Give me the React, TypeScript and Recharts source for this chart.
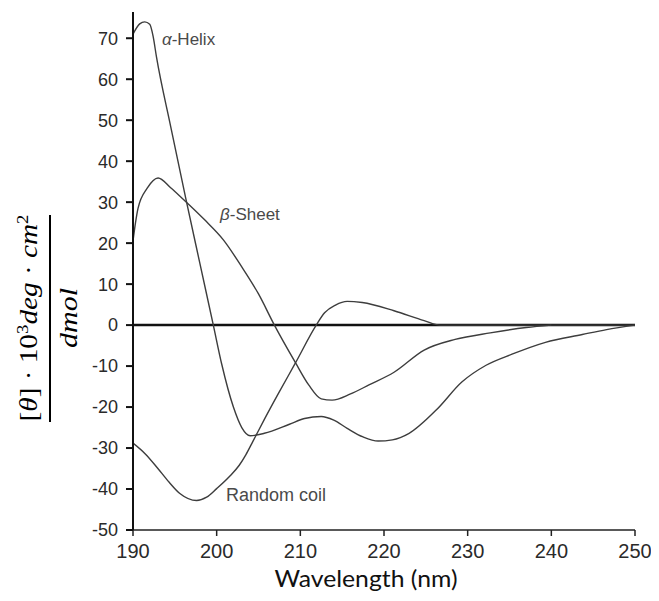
import React from 'react';
import { LineChart, Line, XAxis, YAxis, ReferenceLine, Customized } from 'recharts';

// wavelength ticks (nm) and ellipticity ticks (10^3 deg cm2 / dmol)
const wavelengthTicks = [190, 200, 210, 220, 230, 240, 250];
const thetaTicks = [-50, -40, -30, -20, -10, 0, 10, 20, 30, 40, 50, 60, 70];

// [nm, theta]
const alphaHelix: [number, number][] = [
    [190, 71], [190.8, 73.5], [191.4, 74], [192, 73.4], [192.4, 70.5], [192.8, 65.5],
    [194.5, 48.5], [196.3, 31], [198, 15], [199.6, 0], [200.6, -9.5], [202, -20],
    [203, -25], [204, -27], [205.7, -26.4], [208.7, -24.2], [210.5, -22.8],
    [212.5, -22.3], [214, -23.2], [215.6, -25.2], [217.5, -27.3], [219.3, -28.3],
    [221, -28], [223, -26.4], [226.3, -20.6], [229.3, -13.9], [232.2, -9.8],
    [235.3, -7.1], [239.3, -4.2], [243.7, -2.3], [246.6, -1.1], [250, 0],
];

const betaSheet: [number, number][] = [
    [190, 20.5], [190.3, 25], [190.6, 28.5], [191.7, 33.4], [193, 35.9], [194.5, 33.5],
    [196, 30.7], [198.5, 25.8], [200.8, 20.8], [203, 14.2], [205, 7.6], [206.9, 0],
    [209.4, -9.1], [211, -14.6], [212.5, -18], [213.8, -18.3], [216, -16.8],
    [218.2, -14.6], [221.2, -11.5], [224.8, -6.1], [228.5, -3.5], [232.7, -1.9],
    [237, -0.6], [240, 0],
];

const randomCoil: [number, number][] = [
    [190, -28.8], [191.5, -31.5], [192.9, -34.8], [194.3, -38.3], [195.6, -41.1],
    [197.6, -42.8], [198.8, -42], [200, -39.9], [201.5, -37], [202.7, -34.2],
    [203.5, -31.6], [204.3, -28.5], [205.7, -23], [207.4, -16.6], [209.4, -9.3],
    [211.9, 0], [212.9, 3], [214.2, 4.9], [215.6, 5.8], [217.4, 5.5], [221.2, 3.5],
    [224.8, 1.1], [226.7, 0], [250, 0],
];

const toRows = (pts: [number, number][]) => pts.map(([nm, theta]) => ({ nm, theta }));

const sans = '"Liberation Sans", Arial, sans-serif';
const serif = '"Liberation Serif", "Times New Roman", serif';
const curveColor = '#3d3d3d';

const Annotations = () => (
    <g>
        {/* series names */}
        <text x={162} y={45} fontFamily={sans} fontSize={17} fill="#4a4a4a">
            <tspan fontStyle="italic">α</tspan>-Helix
        </text>
        <text x={220} y={220} fontFamily={sans} fontSize={17} fill="#4a4a4a">
            <tspan fontStyle="italic">β</tspan>-Sheet
        </text>
        <text x={226} y={501} fontFamily={sans} fontSize={18} fill="#4a4a4a">
            Random coil
        </text>

        {/* y axis label as a fraction */}
        <text
            transform="translate(37,318) rotate(-90)"
            textAnchor="middle"
            fontFamily={serif}
            fontSize={25}
            fill="#000"
            textLength={207}
            lengthAdjust="spacingAndGlyphs"
        >
            [<tspan fontStyle="italic">θ</tspan>] · 10<tspan dy={-9} fontSize={16}>3</tspan>
            <tspan dy={9} fontStyle="italic">deg</tspan> · <tspan fontStyle="italic">cm</tspan>
            <tspan dy={-9} fontSize={16}>2</tspan>
        </text>
        <line x1={50} x2={50} y1={215} y2={422} stroke="#000" strokeWidth={2} />
        <text
            transform="translate(77,318) rotate(-90)"
            textAnchor="middle"
            fontFamily={serif}
            fontStyle="italic"
            fontSize={25}
            fill="#000"
            textLength={60}
            lengthAdjust="spacingAndGlyphs"
        >
            dmol
        </text>

        {/* x axis label */}
        <text
            x={366}
            y={587}
            textAnchor="middle"
            fontFamily='Lato, "Open Sans", sans-serif'
            fontSize={24}
            fill="#111"
            textLength={183}
            lengthAdjust="spacingAndGlyphs"
        >
            Wavelength (nm)
        </text>
    </g>
);

const App: React.FC = () => {
    return (
        <div style={{ margin: -8, width: 659, height: 601, background: '#fff' }}>
            <LineChart width={659} height={601} margin={{ top: 12, right: 24, left: 0, bottom: 0 }}>
                <XAxis
                    type="number"
                    dataKey="nm"
                    domain={[190, 250]}
                    ticks={wavelengthTicks}
                    height={71}
                    stroke="#222"
                    strokeWidth={1.5}
                    tickSize={6}
                    tickMargin={8}
                    tick={{ fontSize: 20, fontFamily: sans, fill: '#2a2a2a' }}
                    allowDataOverflow
                />
                <YAxis
                    type="number"
                    domain={[-50, 76.4]}
                    ticks={thetaTicks}
                    width={133}
                    stroke="#111"
                    strokeWidth={2}
                    tickSize={7}
                    tickMargin={8}
                    tick={{ fontSize: 18, fontFamily: sans, fill: '#2a2a2a' }}
                    allowDataOverflow
                />
                <ReferenceLine y={0} stroke="#111" strokeWidth={2.5} />
                <Line
                    data={toRows(alphaHelix)}
                    dataKey="theta"
                    type="monotone"
                    stroke={curveColor}
                    strokeWidth={1.4}
                    dot={false}
                    activeDot={false}
                    isAnimationActive={false}
                />
                <Line
                    data={toRows(betaSheet)}
                    dataKey="theta"
                    type="monotone"
                    stroke={curveColor}
                    strokeWidth={1.4}
                    dot={false}
                    activeDot={false}
                    isAnimationActive={false}
                />
                <Line
                    data={toRows(randomCoil)}
                    dataKey="theta"
                    type="monotone"
                    stroke={curveColor}
                    strokeWidth={1.4}
                    dot={false}
                    activeDot={false}
                    isAnimationActive={false}
                />
                <Customized component={Annotations} />
            </LineChart>
        </div>
    );
};

export default App;
